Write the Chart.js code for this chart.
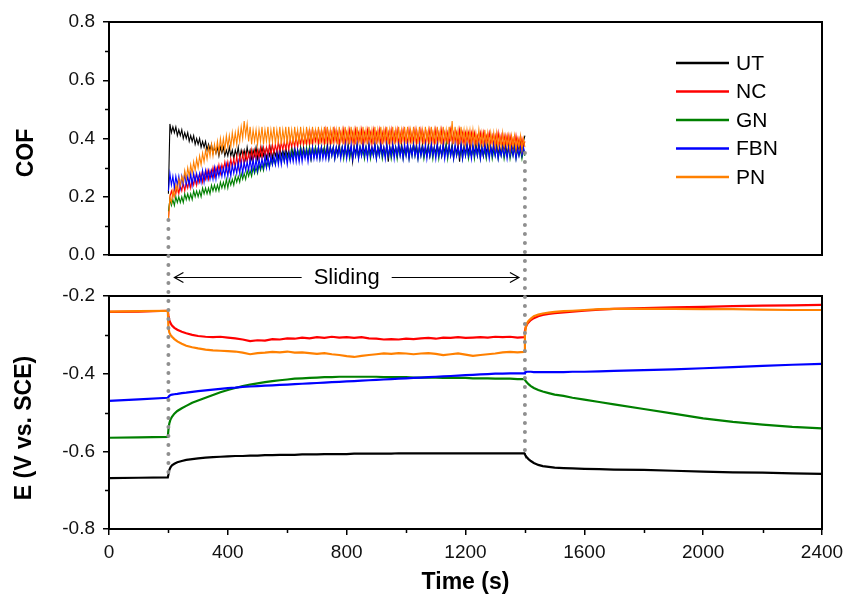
<!DOCTYPE html>
<html>
<head>
<meta charset="utf-8">
<script src="https://cdn.jsdelivr.net/npm/chart.js@4.4.1/dist/chart.umd.min.js"></script>
<style>
  body { margin: 0; background: #fff; }
</style>
</head>
<body>
<canvas id="c" width="845" height="598"></canvas>
<script>
// series names and colours (legend order)
var names = ['UT', 'NC', 'GN', 'FBN', 'PN'];
var colors = ['#000000', '#ff0000', '#008000', '#0000ff', '#ff8000'];

// COF during sliding, sampled every 5 s from 200 s to 1400 s
var cofTime = [
  200, 205, 210, 215, 220, 225, 230, 235, 240, 245, 250, 255, 260, 265, 270, 275, 280, 285, 290, 295,
  300, 305, 310, 315, 320, 325, 330, 335, 340, 345, 350, 355, 360, 365, 370, 375, 380, 385, 390, 395,
  400, 405, 410, 415, 420, 425, 430, 435, 440, 445, 450, 455, 460, 465, 470, 475, 480, 485, 490, 495,
  500, 505, 510, 515, 520, 525, 530, 535, 540, 545, 550, 555, 560, 565, 570, 575, 580, 585, 590, 595,
  600, 605, 610, 615, 620, 625, 630, 635, 640, 645, 650, 655, 660, 665, 670, 675, 680, 685, 690, 695,
  700, 705, 710, 715, 720, 725, 730, 735, 740, 745, 750, 755, 760, 765, 770, 775, 780, 785, 790, 795,
  800, 805, 810, 815, 820, 825, 830, 835, 840, 845, 850, 855, 860, 865, 870, 875, 880, 885, 890, 895,
  900, 905, 910, 915, 920, 925, 930, 935, 940, 945, 950, 955, 960, 965, 970, 975, 980, 985, 990, 995,
  1000, 1005, 1010, 1015, 1020, 1025, 1030, 1035, 1040, 1045, 1050, 1055, 1060, 1065, 1070, 1075, 1080, 1085, 1090, 1095,
  1100, 1105, 1110, 1115, 1120, 1125, 1130, 1135, 1140, 1145, 1150, 1155, 1160, 1165, 1170, 1175, 1180, 1185, 1190, 1195,
  1200, 1205, 1210, 1215, 1220, 1225, 1230, 1235, 1240, 1245, 1250, 1255, 1260, 1265, 1270, 1275, 1280, 1285, 1290, 1295,
  1300, 1305, 1310, 1315, 1320, 1325, 1330, 1335, 1340, 1345, 1350, 1355, 1360, 1365, 1370, 1375, 1380, 1385, 1390, 1395,
  1400
];
var cofUT = [
  0.21, 0.45, 0.42, 0.44, 0.42, 0.44, 0.41, 0.43, 0.41, 0.43, 0.40, 0.42, 0.40, 0.42, 0.39, 0.41, 0.39, 0.41, 0.38, 0.40,
  0.38, 0.40, 0.37, 0.39, 0.37, 0.39, 0.36, 0.38, 0.36, 0.38, 0.35, 0.37, 0.35, 0.37, 0.34, 0.37, 0.35, 0.37, 0.34, 0.36,
  0.34, 0.37, 0.34, 0.36, 0.33, 0.36, 0.34, 0.37, 0.33, 0.36, 0.34, 0.36, 0.33, 0.37, 0.34, 0.36, 0.33, 0.36, 0.34, 0.37,
  0.33, 0.36, 0.34, 0.37, 0.34, 0.36, 0.33, 0.36, 0.34, 0.37, 0.33, 0.36, 0.34, 0.36, 0.33, 0.37, 0.34, 0.36, 0.34, 0.37,
  0.34, 0.36, 0.33, 0.37, 0.34, 0.37, 0.34, 0.36, 0.33, 0.37, 0.34, 0.37, 0.34, 0.36, 0.34, 0.37, 0.33, 0.37, 0.34, 0.37,
  0.34, 0.37, 0.34, 0.37, 0.35, 0.37, 0.34, 0.38, 0.34, 0.37, 0.35, 0.37, 0.34, 0.37, 0.35, 0.38, 0.34, 0.37, 0.35, 0.37,
  0.34, 0.38, 0.35, 0.37, 0.32, 0.37, 0.35, 0.38, 0.34, 0.37, 0.35, 0.38, 0.35, 0.37, 0.34, 0.38, 0.35, 0.37, 0.35, 0.38,
  0.34, 0.37, 0.35, 0.38, 0.35, 0.37, 0.34, 0.38, 0.32, 0.37, 0.35, 0.38, 0.35, 0.37, 0.34, 0.38, 0.35, 0.38, 0.35, 0.37,
  0.35, 0.38, 0.34, 0.37, 0.35, 0.38, 0.35, 0.38, 0.34, 0.37, 0.35, 0.38, 0.35, 0.37, 0.35, 0.38, 0.34, 0.38, 0.35, 0.37,
  0.35, 0.38, 0.35, 0.37, 0.34, 0.38, 0.35, 0.38, 0.35, 0.37, 0.35, 0.38, 0.34, 0.37, 0.35, 0.38, 0.32, 0.38, 0.35, 0.37,
  0.35, 0.38, 0.35, 0.38, 0.34, 0.37, 0.35, 0.38, 0.35, 0.38, 0.35, 0.37, 0.34, 0.38, 0.35, 0.38, 0.35, 0.37, 0.35, 0.38,
  0.35, 0.38, 0.35, 0.37, 0.35, 0.38, 0.36, 0.38, 0.35, 0.37, 0.35, 0.38, 0.36, 0.38, 0.35, 0.38, 0.36, 0.39, 0.36, 0.39,
  0.41
];
var cofNC = [
  0.12, 0.20, 0.22, 0.20, 0.23, 0.21, 0.24, 0.21, 0.24, 0.22, 0.25, 0.22, 0.25, 0.23, 0.26, 0.23, 0.26, 0.24, 0.27, 0.24,
  0.27, 0.25, 0.28, 0.25, 0.28, 0.26, 0.29, 0.26, 0.29, 0.27, 0.30, 0.27, 0.30, 0.28, 0.31, 0.28, 0.31, 0.29, 0.32, 0.29,
  0.32, 0.29, 0.33, 0.30, 0.33, 0.30, 0.34, 0.30, 0.34, 0.31, 0.35, 0.31, 0.35, 0.32, 0.35, 0.32, 0.36, 0.32, 0.36, 0.33,
  0.36, 0.33, 0.37, 0.33, 0.37, 0.34, 0.37, 0.34, 0.38, 0.34, 0.38, 0.35, 0.38, 0.35, 0.39, 0.35, 0.39, 0.36, 0.39, 0.36,
  0.40, 0.36, 0.40, 0.37, 0.40, 0.37, 0.41, 0.37, 0.41, 0.38, 0.41, 0.38, 0.41, 0.38, 0.42, 0.38, 0.42, 0.38, 0.42, 0.39,
  0.42, 0.38, 0.42, 0.39, 0.42, 0.38, 0.43, 0.39, 0.42, 0.38, 0.42, 0.39, 0.43, 0.39, 0.42, 0.38, 0.42, 0.39, 0.43, 0.38,
  0.42, 0.39, 0.43, 0.39, 0.42, 0.38, 0.43, 0.39, 0.42, 0.39, 0.43, 0.38, 0.42, 0.39, 0.43, 0.39, 0.42, 0.38, 0.43, 0.39,
  0.42, 0.39, 0.43, 0.38, 0.42, 0.39, 0.43, 0.39, 0.42, 0.38, 0.43, 0.39, 0.42, 0.39, 0.43, 0.38, 0.42, 0.39, 0.43, 0.39,
  0.42, 0.38, 0.43, 0.39, 0.42, 0.39, 0.43, 0.38, 0.42, 0.39, 0.43, 0.39, 0.42, 0.38, 0.42, 0.39, 0.43, 0.39, 0.42, 0.38,
  0.43, 0.39, 0.42, 0.39, 0.43, 0.38, 0.42, 0.39, 0.42, 0.38, 0.43, 0.39, 0.42, 0.39, 0.42, 0.38, 0.43, 0.39, 0.42, 0.38,
  0.42, 0.39, 0.42, 0.38, 0.42, 0.39, 0.42, 0.38, 0.41, 0.39, 0.42, 0.38, 0.42, 0.38, 0.41, 0.39, 0.42, 0.38, 0.41, 0.38,
  0.41, 0.38, 0.42, 0.38, 0.41, 0.37, 0.41, 0.38, 0.41, 0.37, 0.41, 0.38, 0.40, 0.37, 0.41, 0.37, 0.40, 0.37, 0.40, 0.37,
  0.39
];
var cofGN = [
  0.15, 0.19, 0.17, 0.19, 0.17, 0.20, 0.18, 0.20, 0.18, 0.20, 0.18, 0.21, 0.19, 0.21, 0.19, 0.21, 0.19, 0.22, 0.20, 0.22,
  0.20, 0.22, 0.20, 0.23, 0.21, 0.23, 0.21, 0.23, 0.21, 0.24, 0.22, 0.24, 0.22, 0.24, 0.22, 0.25, 0.23, 0.25, 0.23, 0.26,
  0.23, 0.26, 0.24, 0.26, 0.24, 0.27, 0.25, 0.27, 0.25, 0.28, 0.26, 0.28, 0.26, 0.29, 0.27, 0.29, 0.27, 0.30, 0.28, 0.30,
  0.28, 0.31, 0.29, 0.31, 0.29, 0.32, 0.30, 0.32, 0.30, 0.33, 0.31, 0.33, 0.31, 0.34, 0.32, 0.34, 0.32, 0.35, 0.32, 0.35,
  0.33, 0.35, 0.33, 0.36, 0.33, 0.36, 0.34, 0.36, 0.34, 0.37, 0.34, 0.36, 0.34, 0.37, 0.34, 0.37, 0.33, 0.37, 0.34, 0.37,
  0.34, 0.37, 0.33, 0.37, 0.34, 0.37, 0.34, 0.36, 0.33, 0.37, 0.34, 0.37, 0.33, 0.36, 0.34, 0.37, 0.34, 0.37, 0.33, 0.37,
  0.34, 0.37, 0.33, 0.36, 0.34, 0.37, 0.34, 0.37, 0.33, 0.37, 0.34, 0.36, 0.33, 0.37, 0.34, 0.37, 0.33, 0.36, 0.34, 0.37,
  0.33, 0.37, 0.34, 0.37, 0.33, 0.36, 0.34, 0.37, 0.34, 0.37, 0.33, 0.36, 0.34, 0.37, 0.33, 0.37, 0.34, 0.37, 0.33, 0.36,
  0.34, 0.37, 0.33, 0.37, 0.34, 0.38, 0.34, 0.37, 0.33, 0.37, 0.34, 0.37, 0.33, 0.36, 0.34, 0.37, 0.34, 0.37, 0.33, 0.37,
  0.34, 0.37, 0.33, 0.37, 0.34, 0.37, 0.34, 0.38, 0.33, 0.37, 0.34, 0.37, 0.33, 0.37, 0.34, 0.36, 0.34, 0.37, 0.33, 0.37,
  0.34, 0.37, 0.33, 0.36, 0.34, 0.37, 0.33, 0.37, 0.34, 0.37, 0.33, 0.37, 0.34, 0.36, 0.33, 0.37, 0.34, 0.37, 0.33, 0.36,
  0.34, 0.37, 0.33, 0.36, 0.34, 0.37, 0.33, 0.36, 0.34, 0.37, 0.33, 0.36, 0.34, 0.37, 0.33, 0.36, 0.34, 0.36, 0.33, 0.36,
  0.34
];
var cofFBN = [
  0.22, 0.28, 0.24, 0.27, 0.23, 0.27, 0.24, 0.27, 0.23, 0.27, 0.24, 0.28, 0.24, 0.27, 0.24, 0.28, 0.24, 0.28, 0.25, 0.28,
  0.25, 0.28, 0.25, 0.29, 0.25, 0.29, 0.26, 0.29, 0.26, 0.29, 0.26, 0.30, 0.26, 0.30, 0.27, 0.30, 0.27, 0.30, 0.27, 0.31,
  0.27, 0.31, 0.27, 0.31, 0.28, 0.31, 0.28, 0.32, 0.28, 0.32, 0.28, 0.32, 0.29, 0.32, 0.29, 0.33, 0.29, 0.33, 0.29, 0.33,
  0.29, 0.33, 0.30, 0.33, 0.30, 0.34, 0.30, 0.34, 0.30, 0.34, 0.31, 0.34, 0.31, 0.35, 0.31, 0.35, 0.31, 0.35, 0.32, 0.35,
  0.31, 0.35, 0.32, 0.35, 0.32, 0.36, 0.32, 0.36, 0.32, 0.36, 0.32, 0.36, 0.33, 0.36, 0.32, 0.36, 0.33, 0.37, 0.33, 0.36,
  0.33, 0.37, 0.33, 0.37, 0.33, 0.36, 0.33, 0.37, 0.33, 0.37, 0.34, 0.37, 0.33, 0.37, 0.34, 0.37, 0.33, 0.37, 0.34, 0.38,
  0.33, 0.37, 0.34, 0.38, 0.33, 0.37, 0.34, 0.38, 0.33, 0.37, 0.34, 0.38, 0.34, 0.37, 0.33, 0.38, 0.34, 0.37, 0.34, 0.38,
  0.33, 0.37, 0.34, 0.38, 0.34, 0.37, 0.33, 0.38, 0.34, 0.37, 0.34, 0.38, 0.33, 0.37, 0.34, 0.38, 0.34, 0.37, 0.33, 0.38,
  0.34, 0.38, 0.33, 0.37, 0.34, 0.38, 0.34, 0.37, 0.33, 0.38, 0.34, 0.37, 0.34, 0.38, 0.33, 0.37, 0.34, 0.38, 0.34, 0.37,
  0.33, 0.38, 0.34, 0.37, 0.34, 0.38, 0.33, 0.37, 0.34, 0.38, 0.34, 0.37, 0.33, 0.38, 0.34, 0.37, 0.34, 0.38, 0.33, 0.37,
  0.34, 0.38, 0.34, 0.37, 0.33, 0.38, 0.34, 0.37, 0.34, 0.38, 0.33, 0.37, 0.34, 0.38, 0.34, 0.37, 0.33, 0.37, 0.34, 0.38,
  0.34, 0.37, 0.33, 0.37, 0.34, 0.37, 0.34, 0.37, 0.33, 0.37, 0.34, 0.37, 0.34, 0.37, 0.33, 0.37, 0.34, 0.37, 0.34, 0.37,
  0.35
];
var cofPN = [
  0.12, 0.20, 0.18, 0.22, 0.20, 0.24, 0.22, 0.26, 0.24, 0.27, 0.25, 0.29, 0.26, 0.30, 0.27, 0.31, 0.28, 0.32, 0.29, 0.33,
  0.30, 0.34, 0.31, 0.35, 0.32, 0.36, 0.33, 0.37, 0.34, 0.38, 0.34, 0.38, 0.35, 0.39, 0.35, 0.40, 0.36, 0.40, 0.36, 0.41,
  0.37, 0.41, 0.37, 0.42, 0.38, 0.42, 0.38, 0.43, 0.39, 0.44, 0.40, 0.46, 0.41, 0.45, 0.39, 0.44, 0.38, 0.43, 0.39, 0.43,
  0.38, 0.43, 0.39, 0.44, 0.38, 0.43, 0.39, 0.44, 0.38, 0.43, 0.39, 0.44, 0.38, 0.43, 0.39, 0.44, 0.38, 0.43, 0.39, 0.44,
  0.38, 0.44, 0.39, 0.43, 0.38, 0.44, 0.39, 0.43, 0.38, 0.44, 0.39, 0.43, 0.38, 0.44, 0.39, 0.43, 0.38, 0.44, 0.39, 0.43,
  0.39, 0.44, 0.38, 0.43, 0.39, 0.44, 0.38, 0.44, 0.39, 0.43, 0.38, 0.44, 0.39, 0.43, 0.38, 0.44, 0.39, 0.43, 0.38, 0.44,
  0.39, 0.43, 0.38, 0.44, 0.39, 0.43, 0.38, 0.44, 0.39, 0.43, 0.38, 0.44, 0.39, 0.43, 0.38, 0.44, 0.39, 0.43, 0.38, 0.44,
  0.38, 0.43, 0.39, 0.44, 0.38, 0.43, 0.39, 0.44, 0.38, 0.43, 0.39, 0.44, 0.38, 0.43, 0.39, 0.44, 0.38, 0.43, 0.39, 0.44,
  0.38, 0.44, 0.39, 0.43, 0.38, 0.44, 0.39, 0.43, 0.38, 0.44, 0.39, 0.43, 0.38, 0.44, 0.39, 0.43, 0.38, 0.44, 0.39, 0.43,
  0.38, 0.44, 0.39, 0.43, 0.38, 0.44, 0.39, 0.43, 0.38, 0.44, 0.39, 0.46, 0.38, 0.44, 0.39, 0.43, 0.38, 0.44, 0.39, 0.43,
  0.38, 0.43, 0.39, 0.43, 0.38, 0.43, 0.38, 0.42, 0.38, 0.43, 0.38, 0.42, 0.37, 0.43, 0.38, 0.42, 0.37, 0.42, 0.38, 0.42,
  0.37, 0.42, 0.37, 0.41, 0.37, 0.42, 0.37, 0.41, 0.37, 0.41, 0.36, 0.41, 0.37, 0.41, 0.36, 0.40, 0.37, 0.41, 0.36, 0.40,
  0.37
];

// open-circuit potential E (V vs. SCE)
var eTime = [
  0, 100, 198,
  200, 203, 207, 212, 220, 230, 245, 260, 280, 300,
  325, 350, 375, 400, 425, 450, 475, 500, 525, 550,
  575, 600, 625, 650, 675, 700, 725, 750, 775, 800,
  825, 850, 875, 900, 925, 950, 975, 1000, 1025, 1050,
  1075, 1100, 1125, 1150, 1175, 1200, 1225, 1250, 1275, 1300,
  1325, 1350, 1375,
  1398,
  1400, 1403, 1407, 1412, 1420, 1430, 1445, 1460, 1480, 1500,
  1530, 1560, 1600, 1650, 1700,
  1800, 1900, 2000, 2100, 2200, 2300, 2400
];
var eUT = [
  -0.669, -0.668, -0.667,
  -0.660, -0.648, -0.641, -0.636, -0.632, -0.628, -0.625, -0.622, -0.620, -0.618,
  -0.616, -0.615, -0.614, -0.613, -0.612, -0.612, -0.611, -0.611, -0.610, -0.610,
  -0.609, -0.609, -0.609, -0.608, -0.608, -0.608, -0.607, -0.607, -0.607, -0.607,
  -0.606, -0.606, -0.606, -0.606, -0.606, -0.606, -0.605, -0.605, -0.605, -0.605,
  -0.605, -0.605, -0.605, -0.605, -0.605, -0.605, -0.605, -0.605, -0.605, -0.605,
  -0.605, -0.605, -0.605,
  -0.605,
  -0.608, -0.612, -0.616, -0.620, -0.625, -0.630, -0.635, -0.638, -0.640, -0.642,
  -0.643, -0.644, -0.645, -0.646, -0.647,
  -0.648, -0.650, -0.652, -0.654, -0.655, -0.657, -0.658
];
var eNC = [
  -0.241, -0.240, -0.238,
  -0.250, -0.262, -0.270, -0.276, -0.282, -0.287, -0.292, -0.296, -0.300, -0.303,
  -0.305, -0.306, -0.305, -0.307, -0.309, -0.312, -0.316, -0.314, -0.315, -0.311,
  -0.312, -0.309, -0.310, -0.307, -0.309, -0.306, -0.308, -0.305, -0.307, -0.306,
  -0.308, -0.306, -0.309, -0.310, -0.312, -0.311, -0.312, -0.310, -0.311, -0.309,
  -0.308, -0.310, -0.307, -0.308, -0.306, -0.308, -0.307, -0.306, -0.307, -0.305,
  -0.306, -0.305, -0.307,
  -0.306,
  -0.290, -0.280, -0.273, -0.268, -0.262, -0.257, -0.252, -0.249, -0.246, -0.244,
  -0.242, -0.240, -0.238, -0.235, -0.233,
  -0.231, -0.229, -0.228, -0.226, -0.225, -0.224, -0.223
];
var eGN = [
  -0.565, -0.564, -0.563,
  -0.545, -0.528, -0.518, -0.511, -0.503, -0.496, -0.489, -0.483, -0.475, -0.469,
  -0.462, -0.455, -0.448, -0.442, -0.437, -0.432, -0.428, -0.425, -0.422, -0.419,
  -0.417, -0.415, -0.413, -0.412, -0.411, -0.410, -0.409, -0.409, -0.408, -0.408,
  -0.408, -0.408, -0.408, -0.408, -0.409, -0.409, -0.409, -0.409, -0.410, -0.410,
  -0.410, -0.410, -0.411, -0.411, -0.411, -0.411, -0.412, -0.412, -0.412, -0.413,
  -0.413, -0.413, -0.414,
  -0.414,
  -0.416, -0.419, -0.423, -0.427, -0.432, -0.437, -0.442, -0.446, -0.450, -0.454,
  -0.457, -0.462, -0.467, -0.473, -0.479,
  -0.491, -0.503, -0.515, -0.524, -0.531, -0.537, -0.541
];
var eFBN = [
  -0.470, -0.466, -0.462,
  -0.460, -0.457, -0.455, -0.454, -0.453, -0.452, -0.450, -0.449, -0.447, -0.445,
  -0.443, -0.441, -0.439, -0.437, -0.436, -0.434, -0.433, -0.432, -0.431, -0.430,
  -0.429, -0.428, -0.427, -0.426, -0.425, -0.424, -0.423, -0.422, -0.421, -0.420,
  -0.419, -0.418, -0.417, -0.416, -0.415, -0.414, -0.413, -0.412, -0.411, -0.410,
  -0.409, -0.408, -0.407, -0.406, -0.405, -0.404, -0.403, -0.402, -0.401, -0.400,
  -0.400, -0.399, -0.399,
  -0.399,
  -0.397, -0.396, -0.395, -0.395, -0.395, -0.396, -0.396, -0.396, -0.396, -0.396,
  -0.396, -0.395, -0.395, -0.394, -0.393,
  -0.391, -0.389, -0.386, -0.383, -0.380, -0.377, -0.375
];
var ePN = [
  -0.240, -0.239, -0.238,
  -0.280, -0.294, -0.300, -0.305, -0.311, -0.317, -0.323, -0.328, -0.332, -0.335,
  -0.338, -0.340, -0.341, -0.342, -0.343, -0.346, -0.350, -0.347, -0.346, -0.344,
  -0.345, -0.343, -0.346, -0.345, -0.347, -0.349, -0.347, -0.350, -0.352, -0.355,
  -0.357, -0.354, -0.352, -0.350, -0.348, -0.349, -0.347, -0.348, -0.350, -0.348,
  -0.347, -0.349, -0.352, -0.350, -0.348, -0.351, -0.354, -0.352, -0.350, -0.348,
  -0.345, -0.344, -0.345,
  -0.344,
  -0.300, -0.280, -0.270, -0.264, -0.258, -0.252, -0.248, -0.245, -0.243, -0.241,
  -0.239, -0.238, -0.236, -0.234, -0.233,
  -0.233, -0.233, -0.234, -0.234, -0.235, -0.236, -0.236
];

// ticks
var timeMinor = [200, 600, 1000, 1400, 1800, 2200];
var cofMinor = [0.1, 0.3, 0.5, 0.7];
var eMinor = [-0.7, -0.5, -0.3];
// start/end of sliding, with the ends of the dotted guide lines
var slideMarks = [
  {t: 200, cof: 0.12, e: -0.669},
  {t: 1400, cof: 0.35, e: -0.605}
];

var cofSeries = [cofUT, cofNC, cofGN, cofFBN, cofPN];
var eSeries = [eUT, eNC, eGN, eFBN, ePN];

function pts(xs, ys) {
  return xs.map(function(x, i) { return {x: x, y: ys[i]}; });
}

// later series are drawn on top (PN over NC, as in the figure)
var datasets = [];
cofSeries.forEach(function(s, i) {
  datasets.push({label: names[i], data: pts(cofTime, s), yAxisID: 'yCof', order: -i,
    borderColor: colors[i], borderWidth: 1.1, pointRadius: 0});
});
eSeries.forEach(function(s, i) {
  datasets.push({label: names[i], data: pts(eTime, s), yAxisID: 'yE', order: -i,
    borderColor: colors[i], borderWidth: 2.2, pointRadius: 0});
});

var FONT = '"Liberation Sans", Arial, sans-serif';

var decor = {
  id: 'decor',
  afterDraw: function(chart) {
    var ctx = chart.ctx, a = chart.chartArea, sc = chart.scales;
    var x = sc.x, yc = sc.yCof, ye = sc.yE;
    ctx.save();

    // panel frames
    ctx.strokeStyle = '#000';
    ctx.lineWidth = 2;
    ctx.strokeRect(a.left, yc.top, a.right - a.left, yc.bottom - yc.top);
    ctx.strokeRect(a.left, ye.top, a.right - a.left, ye.bottom - ye.top);

    // minor ticks
    ctx.lineWidth = 1.5;
    ctx.beginPath();
    cofMinor.forEach(function(v) {
      var p = Math.round(yc.getPixelForValue(v)) + 0.5;
      ctx.moveTo(a.left - 4, p); ctx.lineTo(a.left, p);
    });
    eMinor.forEach(function(v) {
      var p = Math.round(ye.getPixelForValue(v)) + 0.5;
      ctx.moveTo(a.left - 4, p); ctx.lineTo(a.left, p);
    });
    timeMinor.forEach(function(v) {
      var p = Math.round(x.getPixelForValue(v)) + 0.5;
      ctx.moveTo(p, a.bottom); ctx.lineTo(p, a.bottom + 4);
    });
    ctx.stroke();

    // dotted guides at start / end of sliding
    ctx.strokeStyle = '#8f8f8f';
    ctx.lineWidth = 4;
    ctx.lineCap = 'round';
    ctx.setLineDash([0, 9]);
    slideMarks.forEach(function(m) {
      var px = x.getPixelForValue(m.t);
      ctx.beginPath();
      ctx.moveTo(px, yc.getPixelForValue(m.cof));
      ctx.lineTo(px, ye.getPixelForValue(m.e));
      ctx.stroke();
    });
    ctx.setLineDash([]);
    ctx.lineCap = 'butt';

    // "Sliding" arrow between the panels
    var ay = (yc.bottom + ye.top) / 2 + 2;
    var x0 = x.getPixelForValue(slideMarks[0].t) + 6;
    var x1 = x.getPixelForValue(slideMarks[1].t) - 6;
    var xm = (x0 + x1) / 2;
    ctx.font = '22px ' + FONT;
    ctx.fillStyle = '#000';
    ctx.textAlign = 'center';
    ctx.textBaseline = 'middle';
    ctx.fillText('Sliding', xm, ay);
    var half = ctx.measureText('Sliding').width / 2 + 12;
    ctx.strokeStyle = '#000';
    ctx.lineWidth = 1.2;
    ctx.beginPath();
    ctx.moveTo(x0, ay); ctx.lineTo(xm - half, ay);
    ctx.moveTo(xm + half, ay); ctx.lineTo(x1, ay);
    ctx.moveTo(x0 + 9, ay - 5); ctx.lineTo(x0, ay); ctx.lineTo(x0 + 9, ay + 5);
    ctx.moveTo(x1 - 9, ay - 5); ctx.lineTo(x1, ay); ctx.lineTo(x1 - 9, ay + 5);
    ctx.stroke();

    // legend inside the COF panel
    ctx.font = '21px ' + FONT;
    ctx.textAlign = 'left';
    names.forEach(function(n, i) {
      var ly = yc.top + 41 + i * 28.5;
      ctx.strokeStyle = colors[i];
      ctx.lineWidth = 2.5;
      ctx.beginPath();
      ctx.moveTo(676, ly); ctx.lineTo(729, ly);
      ctx.stroke();
      ctx.fillStyle = '#000';
      ctx.fillText(n, 736, ly + 1);
    });

    // axis titles
    ctx.font = 'bold 23px ' + FONT;
    ctx.textAlign = 'center';
    ctx.fillText('Time (s)', (a.left + a.right) / 2, 583);
    ctx.save();
    ctx.translate(27, 153);
    ctx.rotate(-Math.PI / 2);
    ctx.fillText('COF', 0, 0);
    ctx.restore();
    ctx.save();
    ctx.translate(25, 428);
    ctx.rotate(-Math.PI / 2);
    ctx.fillText('E (V vs. SCE)', 0, 0);
    ctx.restore();

    ctx.restore();
  }
};

var tickFont = {family: FONT, size: 19};
var axisGrid = {drawOnChartArea: false, drawTicks: true, tickLength: 6, color: '#000', lineWidth: 1.5};

new Chart(document.getElementById('c'), {
  type: 'line',
  data: {datasets: datasets},
  plugins: [decor],
  options: {
    responsive: false,
    animation: false,
    layout: {padding: {top: 22, right: 23, bottom: 0, left: 0}},
    plugins: {legend: {display: false}, tooltip: {enabled: false}},
    elements: {line: {tension: 0}},
    scales: {
      x: {
        type: 'linear', min: 0, max: 2400,
        grid: axisGrid, border: {display: false},
        ticks: {stepSize: 400, font: tickFont, color: '#111', padding: 6, maxRotation: 0,
          callback: function(v) { return String(v); }},
        afterFit: function(s) { s.height = 69; s.paddingLeft = 0; s.paddingRight = 0; }
      },
      yCof: {
        type: 'linear', position: 'left', stack: 'panels', stackWeight: 233, weight: 3,
        min: 0, max: 0.8,
        grid: axisGrid, border: {display: false},
        ticks: {stepSize: 0.2, font: tickFont, color: '#111', padding: 8,
          callback: function(v) { return v.toFixed(1); }},
        afterFit: function(s) { s.width = 109; }
      },
      yGap: {
        type: 'linear', position: 'left', stack: 'panels', stackWeight: 41, weight: 2,
        display: true,
        grid: {display: false}, border: {display: false}, ticks: {display: false},
        afterFit: function(s) { s.width = 109; }
      },
      yE: {
        type: 'linear', position: 'left', stack: 'panels', stackWeight: 233, weight: 1,
        min: -0.8, max: -0.2,
        grid: axisGrid, border: {display: false},
        ticks: {stepSize: 0.2, font: tickFont, color: '#111', padding: 8,
          callback: function(v) { return v.toFixed(1); }},
        afterFit: function(s) { s.width = 109; }
      }
    }
  }
});
</script>
</body>
</html>
